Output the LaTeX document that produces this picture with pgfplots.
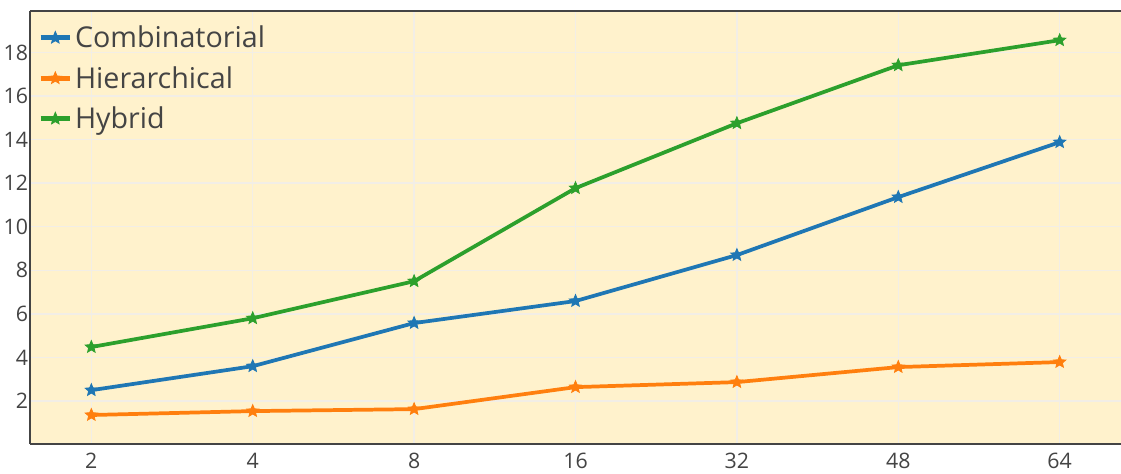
\documentclass[border=0pt]{standalone}
\usepackage{pgfplots}
\pgfplotsset{compat=1.18}
\usepackage{fontspec}
\setmainfont{Open Sans}
\usetikzlibrary{calc}

\definecolor{cblue}{HTML}{1F77B4}
\definecolor{corange}{HTML}{FF7F0E}
\definecolor{cgreen}{HTML}{2CA02C}
\definecolor{bgyellow}{HTML}{FFF2CC}
\definecolor{txt}{HTML}{444444}
\definecolor{gridc}{HTML}{F2EEE6}

% filled five pointed star
\pgfdeclareplotmark{fstar}{%
  \pgfpathmoveto{\pgfpointpolar{90}{\pgfplotmarksize}}%
  \pgfpathlineto{\pgfpointpolar{126}{0.45\pgfplotmarksize}}%
  \pgfpathlineto{\pgfpointpolar{162}{\pgfplotmarksize}}%
  \pgfpathlineto{\pgfpointpolar{198}{0.45\pgfplotmarksize}}%
  \pgfpathlineto{\pgfpointpolar{234}{\pgfplotmarksize}}%
  \pgfpathlineto{\pgfpointpolar{270}{0.45\pgfplotmarksize}}%
  \pgfpathlineto{\pgfpointpolar{306}{\pgfplotmarksize}}%
  \pgfpathlineto{\pgfpointpolar{342}{0.45\pgfplotmarksize}}%
  \pgfpathlineto{\pgfpointpolar{18}{\pgfplotmarksize}}%
  \pgfpathlineto{\pgfpointpolar{54}{0.45\pgfplotmarksize}}%
  \pgfpathclose
  \pgfusepathqfillstroke}

\begin{document}
\begin{tikzpicture}
\begin{axis}[
  scale only axis,
  width=818.25pt, height=324.75pt,
  xmin=-0.38, xmax=6.38, ymin=0.03, ymax=19.9,
  xtick={0,...,6}, xticklabels={2,4,8,16,32,48,64},
  ytick={2,4,...,18},
  major tick length=0pt,
  axis x line*=box, axis y line*=left,
  axis line style={txt, line width=1pt},
  axis background/.style={fill=bgyellow},
  grid=major,
  major grid style={gridc, line width=1pt},
  tick label style={txt, font=\fontsize{16}{19}\selectfont},
  /pgf/number format/assume math mode=true,
  xticklabel style={yshift=-3pt},
  yticklabel style={xshift=2pt},
  clip=false,
  every axis plot/.append style={line width=2.8pt, mark=fstar, mark size=4.8pt,
    mark options={solid, line width=0.6pt}},
  legend cell align=left,
  legend style={draw=none, fill=none, at={(rel axis cs:0,1)}, anchor=north west,
    xshift=4pt, yshift=-7pt, text=txt, font=\fontsize{21.5}{24}\selectfont,
    row sep=8.5pt, inner sep=2pt},
  legend image code/.code={\draw[mark repeat=2, mark phase=2, #1, line width=3.6pt]
    plot coordinates {(0pt,0pt) (11pt,0pt) (22pt,0pt)};},
]
\addplot[cblue] coordinates {(0,2.50) (1,3.60) (2,5.58) (3,6.59) (4,8.70) (5,11.36) (6,13.88)};
\addlegendentry{Combinatorial}
\addplot[corange] coordinates {(0,1.36) (1,1.54) (2,1.63) (3,2.64) (4,2.87) (5,3.56) (6,3.79)};
\addlegendentry{Hierarchical}
\addplot[cgreen] coordinates {(0,4.48) (1,5.80) (2,7.50) (3,11.77) (4,14.75) (5,17.41) (6,18.56)};
\addlegendentry{Hybrid}
\coordinate (sw) at (rel axis cs:0,0);
\coordinate (ne) at (rel axis cs:1,1);
\end{axis}
\pgfresetboundingbox
\path ($(sw)+(-22.5pt,-22.5pt)$) rectangle ($(ne)+(0pt,8.25pt)$);
\end{tikzpicture}
\end{document}
